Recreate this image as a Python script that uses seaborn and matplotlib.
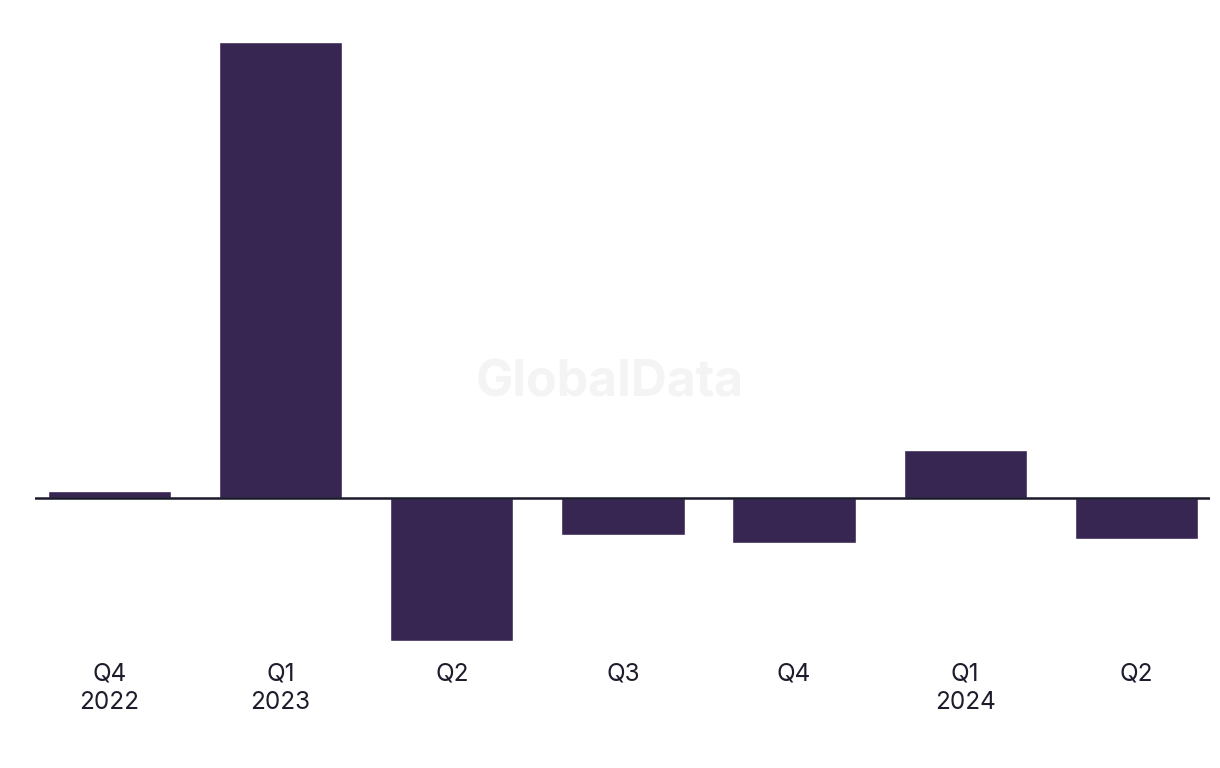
import matplotlib
matplotlib.use('Agg')
import matplotlib.pyplot as plt
import pandas as pd
import seaborn as sns

# Quarterly values (arbitrary units)
quarters = ['Q4\n2022', 'Q1\n2023', 'Q2', 'Q3', 'Q4', 'Q1\n2024', 'Q2']
values = [7, 456, -143, -37, -45, 48, -41]

df = pd.DataFrame({'quarter': quarters, 'value': values})
df['pos'] = range(len(df))

sns.set_style('white')
plt.rcParams['font.family'] = ['Inter', 'DejaVu Sans']

fig = plt.figure(figsize=(12.2, 7.68), dpi=100)
ax = fig.add_axes([35 / 1220, 118 / 768, 1175 / 1220, 630 / 768])

sns.barplot(data=df, x='pos', y='value', color='#372552', saturation=1,
            width=0.72, ax=ax, native_scale=True)

ax.axhline(0, color='#1b1a2b', lw=1.8, zorder=5)
ax.set_xlim(-0.435, 6.43)
ax.set_ylim(-152, 478)
ax.set_xticks(range(len(quarters)))
ax.set_xticklabels(quarters, fontsize=17.5, color='#1c1c2c', linespacing=1.3)
ax.tick_params(axis='x', length=0, pad=9)
ax.set_yticks([])
ax.set_xlabel('')
ax.set_ylabel('')
sns.despine(ax=ax, left=True, bottom=True, top=True, right=True)

fig.text(610 / 1220, 1 - 383 / 768, 'GlobalData', ha='center', va='center',
         fontsize=36, fontweight='bold', color='#f4f4f4', zorder=0)

fig.savefig('out.png', dpi=100)
